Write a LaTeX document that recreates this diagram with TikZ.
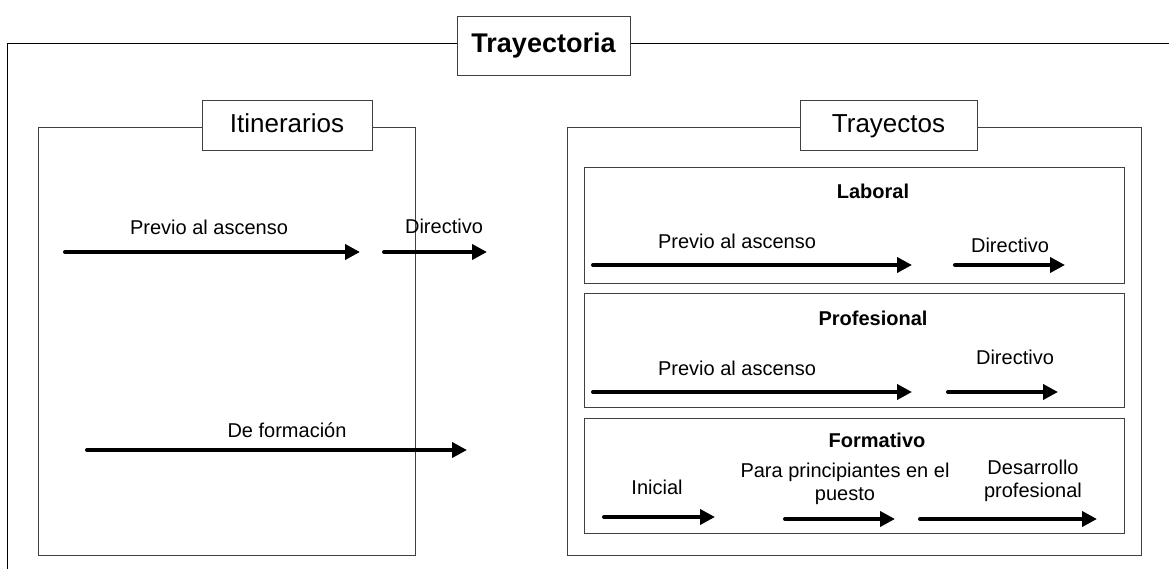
\documentclass[tikz,border=0pt]{standalone}
\usepackage{fontspec}
\setmainfont{Liberation Sans}
\usetikzlibrary{arrows.meta}
\begin{document}
\begin{tikzpicture}[x=1pt,y=-1pt,
  frame/.style={draw=black!75,line width=1pt},
  labelbox/.style={draw=black!75,line width=1pt,fill=white},
  txt/.style={font=\fontsize{20}{23}\selectfont,inner sep=0pt,align=center},
  ttl/.style={font=\fontsize{20}{23}\selectfont\bfseries,inner sep=0pt},
  big/.style={font=\fontsize{26}{30}\selectfont,inner sep=0pt,text height=19pt,text depth=5pt},
  arr/.style={line width=4pt,line cap=round,-{Triangle[length=15pt,width=15pt]}}]
\useasboundingbox (0,0) rectangle (1169,569);
% outer open frame
\coordinate (oL) at (7,569);
\coordinate (oT) at (7,44);
\coordinate (oR) at (1169,44);
\draw[line width=1pt] (oL) -- (oT) -- (oR);
\node[labelbox,minimum width=173pt,minimum height=59pt,font=\fontsize{27}{30}\selectfont\bfseries] (tray) at (543.5,46) {Trayectoria};
% left panel
\node[frame,minimum width=377pt,minimum height=427pt,inner sep=0pt] (itin) at (226.5,341.5) {};
\node[labelbox,minimum width=170pt,minimum height=50pt,big] (itinl) at (287,126) {Itinerarios};
\node[txt] (lpa) at (209,227) {Previo al ascenso};
\coordinate (lpa1) at (65,252); \coordinate (lpa2) at (360,252);
\draw[arr] (lpa1) -- (lpa2);
\node[txt] (ldir) at (444,226) {Directivo};
\coordinate (ldir1) at (384,252); \coordinate (ldir2) at (487,252);
\draw[arr] (ldir1) -- (ldir2);
\node[txt] (lfor) at (287,430) {De formación};
\coordinate (lfor1) at (87,450); \coordinate (lfor2) at (467,450);
\draw[arr] (lfor1) -- (lfor2);
% right panel
\node[frame,minimum width=574pt,minimum height=427pt,inner sep=0pt] (trayec) at (854,341.5) {};
\node[labelbox,minimum width=177pt,minimum height=50pt,big] (trayecl) at (888.5,126) {Trayectos};
% Laboral
\node[frame,minimum width=540pt,minimum height=115pt,inner sep=0pt] (lab) at (854,225.5) {};
\node[ttl] (labt) at (873,191) {Laboral};
\node[txt] (labpa) at (737,241) {Previo al ascenso};
\coordinate (labpa1) at (593,265); \coordinate (labpa2) at (912,265);
\draw[arr] (labpa1) -- (labpa2);
\node[txt] (labdir) at (1010,245) {Directivo};
\coordinate (labdir1) at (955,265); \coordinate (labdir2) at (1065,265);
\draw[arr] (labdir1) -- (labdir2);
% Profesional
\node[frame,minimum width=540pt,minimum height=114pt,inner sep=0pt] (prof) at (854,350) {};
\node[ttl] (proft) at (873,318) {Profesional};
\node[txt] (profpa) at (737,368) {Previo al ascenso};
\coordinate (profpa1) at (593,392); \coordinate (profpa2) at (912,392);
\draw[arr] (profpa1) -- (profpa2);
\node[txt] (profdir) at (1015,357) {Directivo};
\coordinate (profdir1) at (948,392); \coordinate (profdir2) at (1058,392);
\draw[arr] (profdir1) -- (profdir2);
% Formativo
\node[frame,minimum width=540pt,minimum height=115pt,inner sep=0pt] (form) at (854,475.5) {};
\node[ttl] (formt) at (877,440) {Formativo};
\node[txt] (fini) at (657,487) {Inicial};
\coordinate (fini1) at (604,517); \coordinate (fini2) at (715,517);
\draw[arr] (fini1) -- (fini2);
\node[txt] (fpp) at (845,484) {Para principiantes en el\\puesto};
\coordinate (fpp1) at (785,519); \coordinate (fpp2) at (895,519);
\draw[arr] (fpp1) -- (fpp2);
\node[txt] (fdes) at (1033,481) {Desarrollo\\profesional};
\coordinate (fdes1) at (920,519); \coordinate (fdes2) at (1097,519);
\draw[arr] (fdes1) -- (fdes2);
\end{tikzpicture}
\end{document}
